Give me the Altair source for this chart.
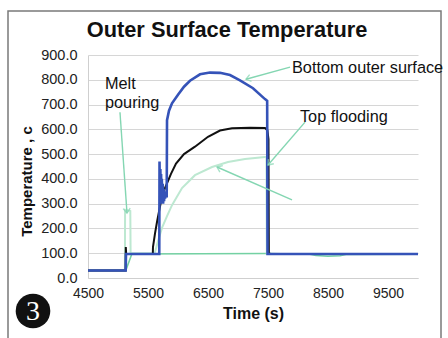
import math
import altair as alt
import pandas as pd

# ---- data ----
blue_t = [4500, 5128, 5133, 5688, 5692, 5700, 5706, 5712, 5718, 5724, 5730, 5738, 5745,
          5752, 5760, 5768, 5776, 5785, 5795, 5805, 5812, 5817, 5850, 5900, 6000, 6100,
          6200, 6367, 6533, 6700, 6867, 7033, 7250, 7450, 7486, 7492, 7600, 8500, 10000]
blue_v = [30, 30, 97, 97, 470, 300, 440, 330, 420, 300, 400, 320, 380,
          300, 360, 310, 350, 320, 340, 330, 330, 637, 675, 705, 740, 772,
          796, 822, 829, 828, 819, 798, 766, 722, 715, 97, 97, 97, 97]

black_t = [4500, 5127, 5130, 5136, 5580, 5583, 5617, 5650, 5717, 5783, 5883, 5967, 6100,
           6283, 6500, 6700, 6900, 7200, 7450, 7490, 7508, 7514, 7540, 10000]
black_v = [30, 30, 125, 97, 97, 125, 180, 226, 310, 363, 420, 462, 500,
           530, 570, 595, 604, 606, 605, 596, 560, 100, 97, 97]

light_t = [4500, 5115, 5118, 5205, 5210, 5600, 5617, 5680, 5733, 5817, 5900, 6067, 6283,
           6567, 6833, 7117, 7450, 7474, 7480, 10000]
light_v = [30, 30, 275, 270, 100, 100, 105, 160, 202, 250, 294, 363, 415,
           448, 468, 480, 488, 490, 97, 97]

mid_t = [4500, 5130, 5230, 7500, 8200, 8300, 8500, 8700, 8800, 10000]
mid_v = [30, 30, 97, 99, 96, 91, 88, 90, 95, 96]

# annotation arrows: (start t, start v) -> (end t, end v)
arrow_id = ["melt", "bottom", "top", "curve"]
arrow_t0 = [5033, 7867, 8117, 7900]
arrow_v0 = [669, 851, 629, 315]
arrow_t1 = [5150, 7133, 7500, 6650]
arrow_v1 = [262, 802, 456, 448]

label_text = ["Melt", "pouring", "Bottom outer surface", "Top flooding"]
label_t = [4783, 4783, 7900, 8033]
label_v = [784, 706, 847, 649]

chart_title = "Outer Surface Temperature"
x_ticks = [4500, 5500, 6500, 7500, 8500, 9500]
y_ticks = [0, 100, 200, 300, 400, 500, 600, 700, 800, 900]

# ---- layout ----
W, H = 330, 223
XMIN, XMAX, YMIN, YMAX = 4500, 10000, 0, 900
FONT = "Liberation Sans"
ARROW = "#84d6b2"

xs = alt.Scale(domain=[XMIN, XMAX], nice=False, zero=False)
ys = alt.Scale(domain=[YMIN, YMAX], nice=False)

x_axis = alt.Axis(values=x_ticks, format="d", grid=False, ticks=False, domainColor="#cfcfcf",
                  labelFont=FONT, labelFontSize=14, labelColor="#222", labelPadding=8,
                  labelFlush=False, labelOverlap=False,
                  title="Time (s)", titleFont=FONT, titleFontSize=16, titleFontWeight="bold",
                  titleColor="#111", titlePadding=5)
y_axis = alt.Axis(values=y_ticks, tickCount=10, format=".1f", grid=True, gridColor="#d6d6d6",
                  ticks=False, domainColor="#cfcfcf", labelFont=FONT, labelFontSize=14.5,
                  labelColor="#222", labelPadding=11, labelFlush=False, labelOverlap=False,
                  title="Temperature , c", titleFont=FONT, titleFontSize=15,
                  titleFontWeight="bold", titleColor="#111", titleX=-62, titleY=126,
                  titleAlign="center", titleBaseline="middle")


def series(ts, vs, color, width):
    df = pd.DataFrame({"t": ts, "v": vs, "i": range(len(ts))})
    return alt.Chart(df).mark_line(color=color, strokeWidth=width).encode(
        x=alt.X("t:Q", scale=xs, axis=x_axis),
        y=alt.Y("v:Q", scale=ys, axis=y_axis),
        order="i:Q",
    )


mid = series(mid_t, mid_v, "#74d1a3", 1.6)
light = series(light_t, light_v, "#bde8d1", 2.0)
black = series(black_t, black_v, "#111111", 2.0)
blue = series(blue_t, blue_v, "#3553b8", 2.6)

rows = []
heads = []
for k in range(len(arrow_id)):
    rows.append({"id": arrow_id[k], "t": arrow_t0[k], "v": arrow_v0[k], "i": 0})
    rows.append({"id": arrow_id[k], "t": arrow_t1[k], "v": arrow_v1[k], "i": 1})
    dx = (arrow_t1[k] - arrow_t0[k]) * W / (XMAX - XMIN)
    dy = -(arrow_v1[k] - arrow_v0[k]) * H / (YMAX - YMIN)
    ang = math.degrees(math.atan2(dy, dx)) % 360
    heads.append({"t": arrow_t1[k], "v": arrow_v1[k], "a": ang})

xa = alt.X("t:Q", scale=xs, axis=x_axis)
ya = alt.Y("v:Q", scale=ys, axis=y_axis)

arrows = alt.Chart(pd.DataFrame(rows)).mark_line(color=ARROW, strokeWidth=1.4).encode(
    x=xa, y=ya, detail="id:N", order="i:Q")
arrowheads = alt.Chart(pd.DataFrame(heads)).mark_point(
    shape="M -1 -0.75 L 0 0 L -1 0.75", filled=False, color=ARROW, strokeWidth=1.4, size=90
).encode(x=xa, y=ya, angle=alt.Angle("a:Q", scale=None))

labels = alt.Chart(pd.DataFrame({"txt": label_text, "t": label_t, "v": label_v})).mark_text(
    align="left", baseline="middle", font=FONT, fontSize=16.3, color="#111"
).encode(x=xa, y=ya, text="txt:N")

title = alt.Chart(pd.DataFrame({"k": [chart_title]})).mark_text(
    font=FONT, fontSize=21.8, fontWeight="bold", color="#111", align="center", baseline="middle"
).encode(x=alt.value(139), y=alt.value(-25), text="k:N")

frame = alt.Chart(pd.DataFrame({"k": [0]})).mark_rect(
    fill="transparent", stroke="#7a7a7a", strokeWidth=1.5
).encode(x=alt.value(-80), x2=alt.value(353), y=alt.value(-44), y2=alt.value(300))

badge = alt.Chart(pd.DataFrame({"k": [0]})).mark_point(
    shape="circle", filled=True, color="#111", opacity=1, size=1200
).encode(x=alt.value(-55), y=alt.value(256))
badge_txt = alt.Chart(pd.DataFrame({"k": ["3"]})).mark_text(
    font="Liberation Serif", fontSize=28, color="white", baseline="middle", align="center"
).encode(x=alt.value(-55), y=alt.value(257), text="k:N")

chart = alt.layer(mid, light, black, blue, frame, arrows, arrowheads, labels, title,
                  badge, badge_txt).properties(
    width=W, height=H,
    autosize=alt.AutoSizeParams(type="none"),
    padding={"left": 88, "top": 55, "right": 30, "bottom": 60},
    background="white",
).configure_view(strokeWidth=0)

chart.save("out.html", embed_options={"renderer": "svg", "actions": False})
